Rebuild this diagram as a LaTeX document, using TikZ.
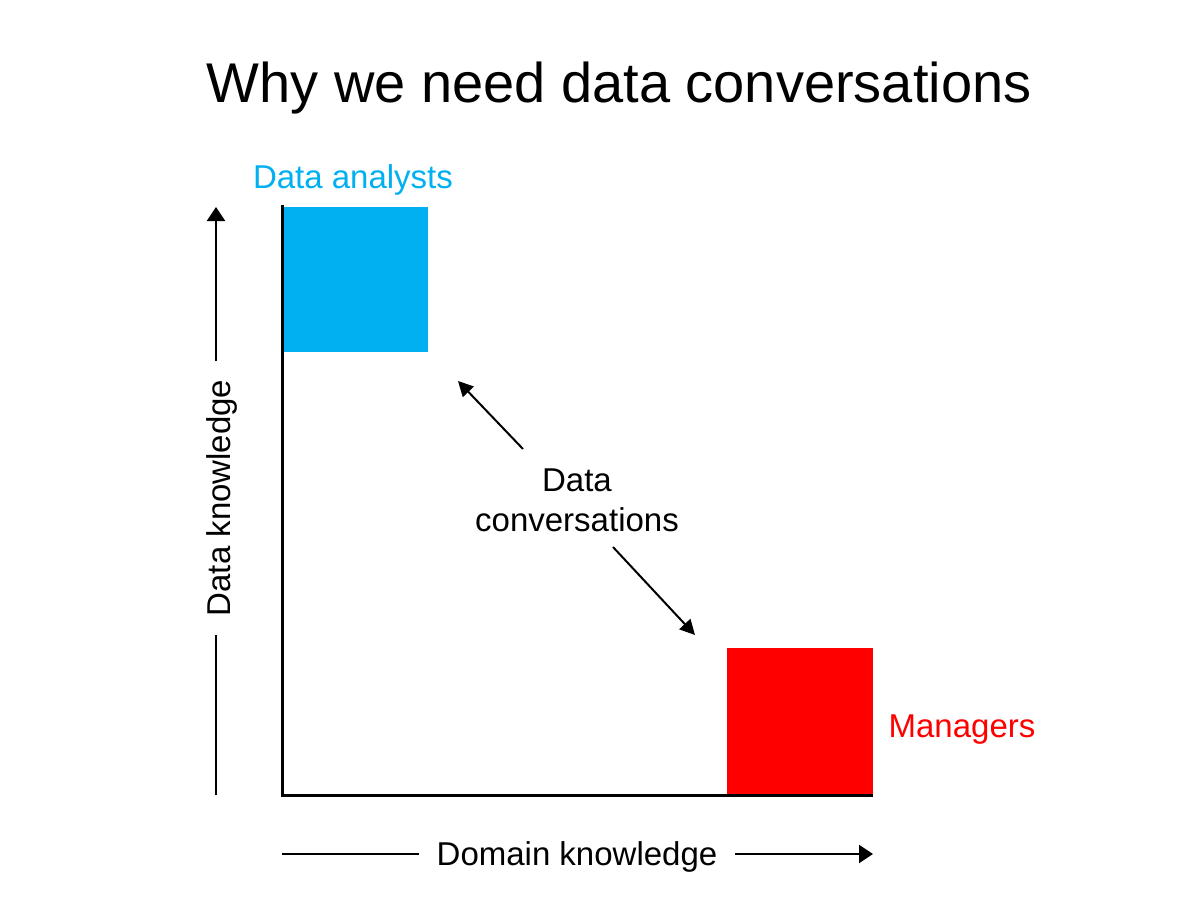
\documentclass[tikz,border=0pt]{standalone}
\usepackage{fontspec}
\setmainfont{Liberation Sans}
\usepackage{xcolor}
\usetikzlibrary{arrows.meta,positioning,calc}
\definecolor{analystblue}{HTML}{00B0F0}
\definecolor{managerred}{HTML}{FF0000}

\begin{document}
\begin{tikzpicture}[
  x=1pt, y=-1pt,
  lbl/.style={font=\fontsize{33}{40}\selectfont, inner ysep=0pt, inner xsep=17pt},
  frame/.style={line width=3pt},
  axline/.style={line width=2.4pt},
  arrow/.style={line width=2pt, -{Triangle[width=15pt,length=15pt]}},
  axarrow/.style={line width=2.4pt, -{Triangle[width=18pt,length=14pt]}},
]
\useasboundingbox (0,0) rectangle (1200,918);
\node[font=\fontsize{56}{67}\selectfont, anchor=base] (title) at (619,102) {Why we need data conversations};
% groups
\fill[analystblue] (282,207) rectangle (428,352);
\fill[managerred] (727,648) rectangle (873,795);
\node[lbl, text=analystblue, anchor=base] (analysts) at (353,188) {Data analysts};
\node[lbl, text=managerred, anchor=base] (managers) at (962,737) {Managers};
% frame
\coordinate (origin) at (282,795);
\draw[frame] (282,205) -- (origin) -- (873,795);
% conversations
\node[lbl, align=center] (conv) at (577,500) {Data\\conversations};
\coordinate (up-tail) at (523,449);
\coordinate (up-tip) at (458,381);
\coordinate (dn-tail) at (613,547);
\coordinate (dn-tip) at (695,635);
\draw[arrow] (up-tail) -- (up-tip);
\draw[arrow] (dn-tail) -- (dn-tip);
% axis labels
\coordinate (ybot) at (216,795);
\coordinate (ytop) at (216,207);
\node[lbl, rotate=90, anchor=base, inner xsep=18pt] (ylab) at (230,498) {Data knowledge};
\draw[axline] (ybot) -- (ybot |- ylab.west);
\draw[axarrow] (ybot |- ylab.east) -- (ytop);
\coordinate (xleft) at (282,854);
\coordinate (xright) at (873,854);
\node[lbl, anchor=base] (xlab) at (577,865) {Domain knowledge};
\draw[axline] (xleft) -- (xleft -| xlab.west);
\draw[axarrow] (xleft -| xlab.east) -- (xright);
\end{tikzpicture}
\end{document}
